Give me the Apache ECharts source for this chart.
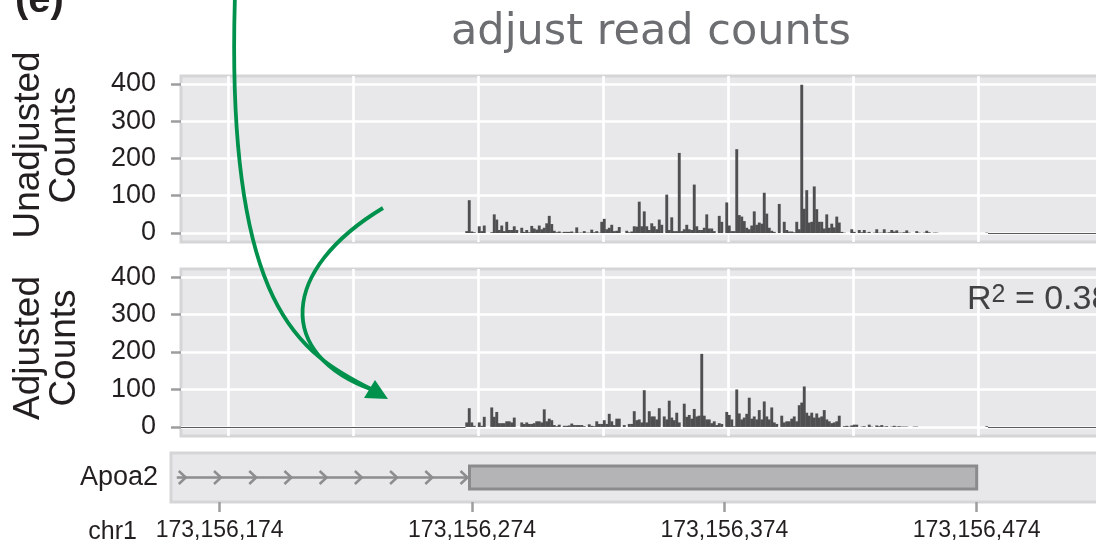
<!DOCTYPE html>
<html><head><meta charset="utf-8">
<script src="https://cdn.jsdelivr.net/npm/echarts@6/dist/echarts.min.js"></script>
<style>html,body{margin:0;padding:0;background:#fff}#c{width:1096px;height:544px}</style>
</head><body><div id="c"></div>
<script>
// ---------- data ----------
const binStart = 173156295;               // genomic position of first 1-bp bin in the count tracks
const unadjusted = [
5,88,4,2,0,18,5,20,0,0,
2,50,36,8,20,5,30,8,8,18,
8,0,14,3,8,2,19,12,9,20,
10,14,26,46,24,6,2,4,1,3,
3,3,4,1,15,1,1,5,1,1,
9,2,5,1,30,38,10,14,22,5,
6,16,0,0,6,2,4,18,17,84,
18,58,18,8,26,18,10,36,22,0,
103,8,42,5,5,215,5,10,22,10,
8,130,18,8,8,14,50,12,12,5,
0,46,30,0,82,20,5,5,225,48,
44,32,14,10,20,58,22,28,25,108,
52,14,6,3,0,78,0,30,8,4,
4,2,30,10,398,65,115,28,30,125,
64,30,30,12,50,14,25,15,44,28,
3,1,0,0,10,3,0,8,2,8,
1,3,0,1,10,1,1,10,1,2,
8,4,7,1,1,2,7,1,0,0,
5,1,0,1,6,2,0,1,1,0,
0,0,0,0,0,0,0,0,0,0,
0,0,0,0,0,0,0,0,1
];
const adjusted = [
12,50,12,3,0,12,3,27,0,0,
52,27,40,10,10,10,15,15,12,25,
0,0,12,8,12,8,8,10,15,15,
12,47,15,22,18,5,2,6,0,3,
3,4,9,5,5,5,5,2,0,7,
3,2,15,8,8,18,8,35,15,5,
22,22,0,5,0,8,8,42,18,20,
12,98,12,42,28,28,20,50,0,28,
20,70,25,18,38,12,0,62,27,32,
22,48,28,30,195,30,20,20,10,15,
5,10,8,0,40,32,20,2,100,36,
20,25,35,78,22,28,20,45,20,68,
28,20,52,12,8,0,30,12,15,15,
22,28,15,58,65,108,38,30,38,25,
36,25,28,45,20,15,10,12,15,30,
0,2,3,1,4,6,6,0,1,2,
0,6,1,0,4,2,5,1,2,0,
1,3,1,2,1,1,1,0,0,1,
1,0,0,0,0,0,0,0,0,0,
0,0,0,0,0,0,0,0,0,0,
0,0,0,0,0,0,0,0,2
];
const countTicks = [0, 100, 200, 300, 400];
const trackGridX = [173156200, 173156250, 173156300, 173156350, 173156400, 173156450, 173156500];
const trackTickX = [173156300, 173156400];
const geneName = 'Apoa2';
const txStart = 173156157;
const exonStart = 173156273;
const exonEnd = 173156474;
const genomeTicks = [173156174, 173156274, 173156374, 173156474];
const chromName = 'chr1';
const titleText = 'adjust read counts';
const panelNames = ['Unadjusted\nCounts', 'Adjusted\nCounts'];
const r2Value = '0.38';

// ---------- styling ----------
const FONT = '"Liberation Sans", Arial, sans-serif';
const PANEL_BG = '#e8e8ea';
const PANEL_BORDER = '#d5d5d7';
const BAR = '#4f4f51';
const TEXT = '#231f20';
const TICK = '#9d9d9f';
const GREEN = '#00924d';

const trackMin = 173156181.2, trackMax = 173156600;
const yMin = -24.2, yMax = 421.5;

function fmt(v){ return String(v).replace(/\B(?=(\d{3})+(?!\d))/g, ','); }

function trackSeries(values, idx, baseSegs){
  const lines = [];
  countTicks.forEach(v => lines.push({yAxis: v}));
  trackGridX.forEach(v => lines.push({xAxis: v}));
  baseSegs.forEach(s => lines.push([
    {coord: [s[0], 0], lineStyle: {color: '#5a5a5c', width: 1.2}},
    {coord: [s[1], 0]}
  ]));
  return {
    type: 'bar', xAxisIndex: idx, yAxisIndex: idx, z: 2,
    barWidth: 2.9, itemStyle: {color: BAR},
    data: values.map((v, i) => [binStart + i + 0.5, v]),
    markLine: {
      silent: true, z: 1, symbol: ['none', 'none'], label: {show: false},
      emphasis: {disabled: true},
      lineStyle: {color: '#ffffff', width: 2.6, type: 'solid'},
      data: lines
    }
  };
}

const chart = echarts.init(document.getElementById('c'), null, {renderer: 'canvas'});
const trackX = (idx, ticks) => ({
  gridIndex: idx, type: 'value', min: trackMin, max: trackMax,
  axisLine: {show: false}, axisLabel: {show: false}, splitLine: {show: false},
  axisTick: ticks ? {show: true, customValues: ticks, length: 8, lineStyle: {color: TICK, width: 2.5}} : {show: false}
});
const trackY = idx => ({
  gridIndex: idx, type: 'value', min: yMin, max: yMax,
  axisLine: {show: false}, splitLine: {show: false},
  axisTick: {show: true, customValues: countTicks, length: 10, lineStyle: {color: TICK, width: 2.5}},
  axisLabel: {customValues: countTicks, fontSize: 27, fontFamily: FONT, color: TEXT, margin: 25}
});
const gridBase = {show: true, backgroundColor: PANEL_BG, borderColor: PANEL_BORDER, borderWidth: 3, containLabel: false, outerBoundsMode: 'none'};

chart.setOption({
  animation: false,
  grid: [
    Object.assign({left: 181, top: 76, width: 1047, height: 166}, gridBase),
    Object.assign({left: 181, top: 269, width: 1047, height: 167}, gridBase),
    Object.assign({left: 171, top: 453, width: 1057, height: 49}, gridBase)
  ],
  xAxis: [
    trackX(0, trackTickX),
    trackX(1, null),
    {
      gridIndex: 2, type: 'value', min: 173156154.7, max: 173156573.6,
      axisLine: {show: false}, splitLine: {show: false},
      axisTick: {show: true, customValues: genomeTicks, length: 10, lineStyle: {color: TICK, width: 2.5}},
      axisLabel: {customValues: genomeTicks, formatter: fmt, fontSize: 23, fontFamily: FONT, color: TEXT, margin: 17}
    }
  ],
  yAxis: [
    trackY(0),
    trackY(1),
    {
      gridIndex: 2, type: 'category', data: [geneName],
      axisLine: {show: false}, axisTick: {show: false}, splitLine: {show: false},
      axisLabel: {fontSize: 27, fontFamily: FONT, color: TEXT, margin: 13}
    }
  ],
  series: [
    trackSeries(unadjusted, 0, [[binStart + unadjusted.length, trackMax]]),
    trackSeries(adjusted, 1, [[trackMin, binStart], [binStart + adjusted.length, trackMax]]),
    {
      type: 'custom', xAxisIndex: 2, yAxisIndex: 2, clip: false, silent: true,
      encode: {x: [0, 1, 2], y: 3},
      data: [[txStart, exonStart, exonEnd, 0]],
      renderItem: function(params, api){
        const p0 = api.coord([api.value(0), 0]);
        const e0 = api.coord([api.value(1), 0]);
        const e1 = api.coord([api.value(2), 0]);
        const cy = p0[1];
        const h = api.size([0, 1])[1] * 0.47;
        const lineStyle = {stroke: '#8d8d8f', lineWidth: 2.5, fill: null};
        const children = [{type: 'line', shape: {x1: p0[0], y1: cy, x2: e0[0], y2: cy}, style: lineStyle}];
        const n = 9, first = p0[0] + 9, last = e0[0] - 2;
        for (let i = 0; i < n; i++) {
          const tx = first + (last - first) * i / (n - 1);
          children.push({type: 'polyline', shape: {points: [[tx - 7, cy - 6.5], [tx, cy], [tx - 7, cy + 6.5]]}, style: lineStyle});
        }
        children.push({type: 'rect', shape: {x: e0[0], y: cy - h / 2, width: e1[0] - e0[0], height: h},
          style: {fill: '#b4b4b7', stroke: '#8b8b8d', lineWidth: 3}});
        return {type: 'group', children: children};
      }
    }
  ],
  graphic: [
    {type: 'text', x: 651, y: 33, z: 50, style: {text: titleText, fontSize: 43, fontFamily: '"DejaVu Sans", sans-serif', fill: '#6d6e71', align: 'center', verticalAlign: 'middle'}},
    {type: 'text', x: 15, y: 1, z: 50, style: {text: '(e)', fontSize: 40, fontWeight: 'bold', fontFamily: FONT, fill: TEXT, align: 'left', verticalAlign: 'middle'}},
    {type: 'text', x: 47, y: 145, rotation: Math.PI / 2, z: 50, style: {text: panelNames[0], fontSize: 37, lineHeight: 36, fontFamily: FONT, fill: TEXT, align: 'center', verticalAlign: 'middle'}},
    {type: 'text', x: 47, y: 348, rotation: Math.PI / 2, z: 50, style: {text: panelNames[1], fontSize: 37, lineHeight: 36, fontFamily: FONT, fill: TEXT, align: 'center', verticalAlign: 'middle'}},
    {type: 'text', x: 137, y: 532, z: 50, style: {text: chromName, fontSize: 25, fontFamily: FONT, fill: TEXT, align: 'right', verticalAlign: 'middle'}},
    {type: 'text', x: 967, y: 306, z: 50, style: {
      text: '{r|R}{s|2}{r| = ' + r2Value + '}', align: 'left', verticalAlign: 'middle',
      rich: {
        r: {fontSize: 34, lineHeight: 46, fontFamily: FONT, fill: '#414042', verticalAlign: 'top'},
        s: {fontSize: 25, lineHeight: 25, fontFamily: FONT, fill: '#414042', verticalAlign: 'top'}
      }}},
    {type: 'bezierCurve', z: 60, shape: {x1: 235, y1: -5, cpx1: 225, cpy1: 310, cpx2: 301, cpy2: 354, x2: 373, y2: 390},
      style: {stroke: GREEN, lineWidth: 3.8, fill: null}},
    {type: 'bezierCurve', z: 60, shape: {x1: 383, y1: 208, cpx1: 280, cpy1: 270, cpx2: 275, cpy2: 355, x2: 373, y2: 390},
      style: {stroke: GREEN, lineWidth: 3.8, fill: null}},
    {type: 'polygon', z: 61, shape: {points: [[388, 399], [364, 398], [375, 380]]}, style: {fill: GREEN}}
  ]
});
</script></body></html>
